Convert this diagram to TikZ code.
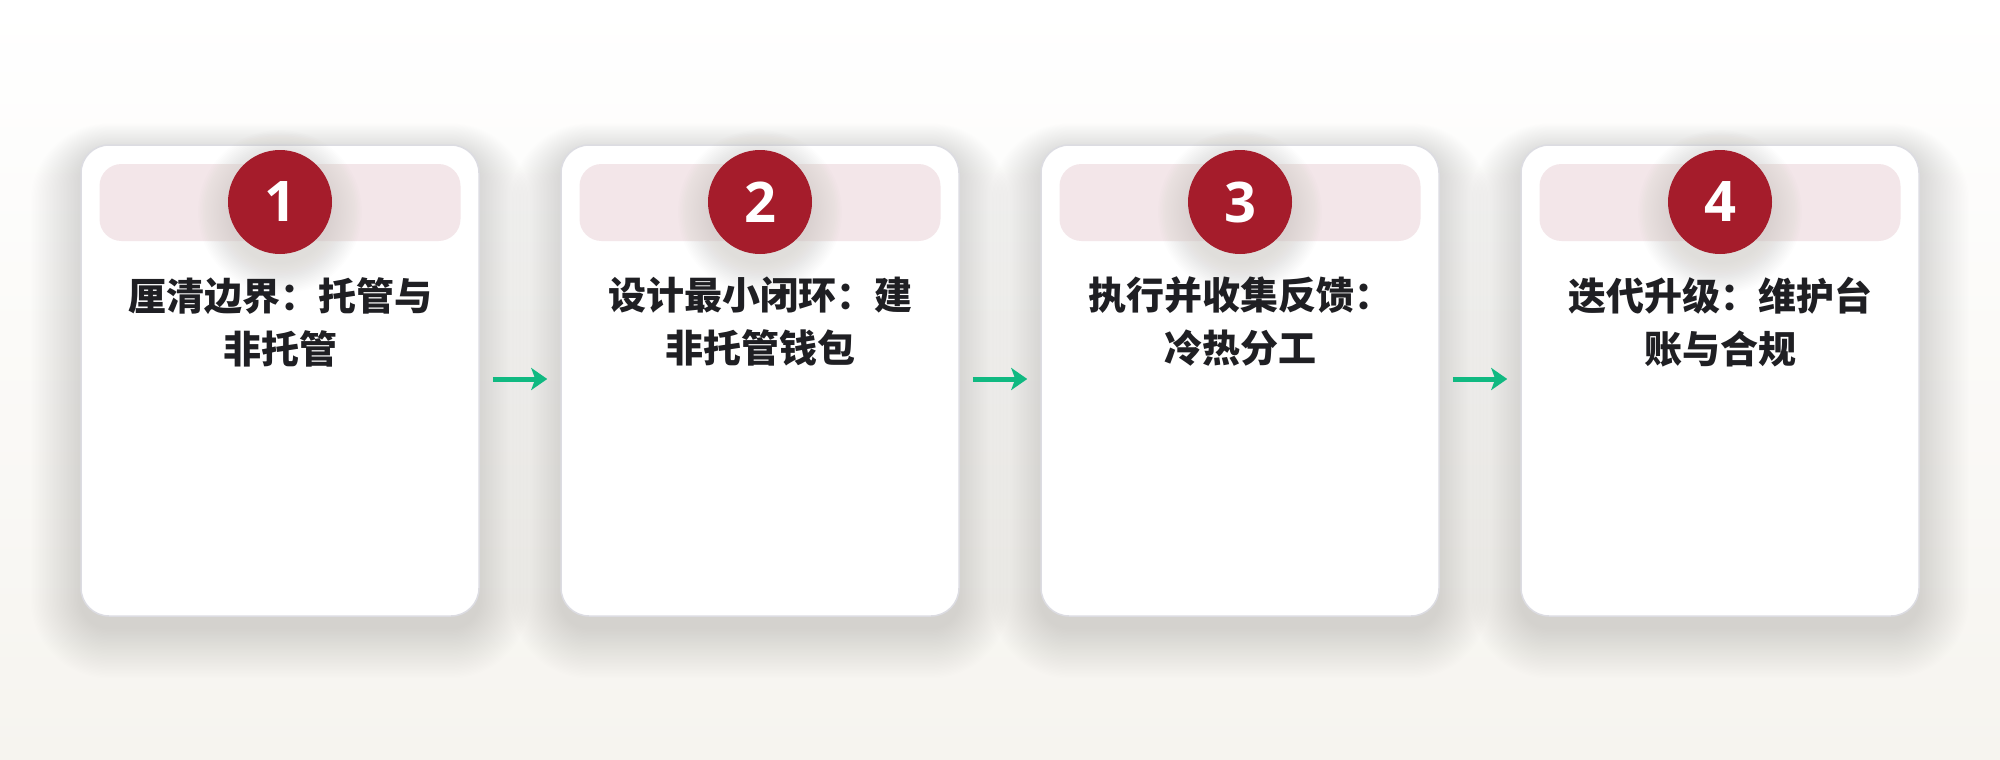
\documentclass[tikz,border=0pt]{standalone}
\usepackage{fontspec}
\newfontfamily\cjk{Noto Sans CJK SC}
\newfontfamily\numfont{Open Sans}
\usetikzlibrary{arrows.meta}
\definecolor{cardline}{HTML}{DCDCE2}
\definecolor{bandfill}{HTML}{F3E6E9}
\definecolor{badgefill}{HTML}{A51C2B}
\definecolor{titleink}{HTML}{1F1F23}
\definecolor{flowgreen}{HTML}{10B981}
\definecolor{bgbot}{HTML}{F6F4EF}
\definecolor{shade}{HTML}{6A6661}
\begin{document}
\begin{tikzpicture}[x=1pt,y=-1pt,
  stepcard/.style={draw=cardline, line width=1.5pt, fill=white, rounded corners=28pt,
    minimum width=398pt, minimum height=471pt, inner sep=0pt},
  stepband/.style={fill=bandfill, rounded corners=22pt, minimum width=361pt, minimum height=77pt, inner sep=0pt},
  numbadge/.style={circle, fill=badgefill, minimum size=104pt, inner sep=0pt, text=white,
    font=\numfont\bfseries\fontsize{56}{60}\selectfont},
  titletext/.style={text=titleink, align=center, text width=380pt, inner sep=0pt,
    font=\cjk\bfseries\fontsize{38}{53}\selectfont},
  flowarrow/.style={draw=flowgreen, line width=5pt, -{Stealth[length=16pt,width=22pt,inset=4pt]}},
  softshade/.style={fill=shade, fill opacity=0.0042}
]
\useasboundingbox (0,0) rectangle (2000,760);
\fill[top color=white, bottom color=bgbot] (0,0) rectangle (2000,760);

% soft card shadows
\foreach \cx in {280,760,1240,1720}{
  \foreach \k in {1,...,36}{
    \fill[softshade, rounded corners={28pt+1.4pt*\k}]
      (\cx-199-1.4*\k, 152-0.8*\k) rectangle (\cx+199+1.4*\k, 628+1.4*\k);
  }
}

\foreach \i/\cx/\num/\ta/\tb in {
  1/280/1/厘清边界：托管与/非托管,
  2/760/2/设计最小闭环：建/非托管钱包,
  3/1240/3/执行并收集反馈：/冷热分工,
  4/1720/4/迭代升级：维护台/账与合规}{
  \node[stepcard] (c\i) at (\cx,380.5) {};
  \node[stepband] (b\i) at (\cx,202.5) {};
  \foreach \k in {1,...,20}{
    \fill[fill=shade, fill opacity=0.008] (\cx,212) circle ({50pt+1.6pt*\k});
  }
  \node[numbadge] (n\i) at (\cx,202) {\num};
  \node[titletext] (t\i) at (\cx,322) {\ta\\\tb};
}

\draw[flowarrow] ([xshift=13pt,yshift=1.5pt]c1.east) -- ([xshift=-13pt,yshift=1.5pt]c2.west);
\draw[flowarrow] ([xshift=13pt,yshift=1.5pt]c2.east) -- ([xshift=-13pt,yshift=1.5pt]c3.west);
\draw[flowarrow] ([xshift=13pt,yshift=1.5pt]c3.east) -- ([xshift=-13pt,yshift=1.5pt]c4.west);
\end{tikzpicture}
\end{document}
